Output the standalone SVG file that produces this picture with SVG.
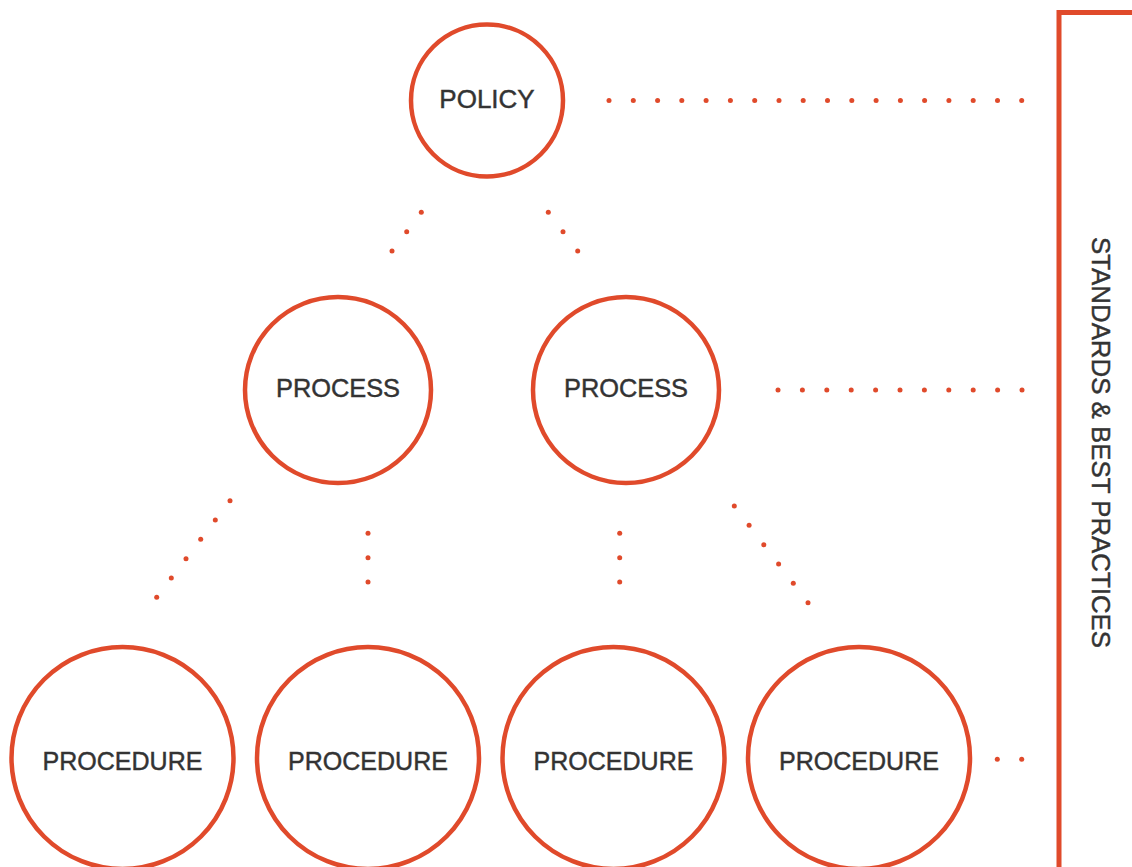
<svg xmlns="http://www.w3.org/2000/svg" width="1132" height="867" viewBox="0 0 1132 867">
  <style>
    .ring { fill: #ffffff; stroke: #e04a2b; stroke-width: 4.5; }
    .label { font-family: "Liberation Sans", Arial, sans-serif; font-size: 26px; fill: #333333; stroke: #333333; stroke-width: 0.45; text-anchor: middle; }
    .dot { fill: #e04a2b; }
    .bracket { fill: none; stroke: #e04a2b; stroke-width: 5; }
  </style>
  <rect width="1132" height="867" fill="#ffffff"/>

  <!-- dotted connectors -->
  <g id="connectors">
    <!-- policy to standards -->
    <g id="policy-row">
      <circle class="dot" cx="609" cy="100.5" r="2.5"/>
      <circle class="dot" cx="633.3" cy="100.5" r="2.5"/>
      <circle class="dot" cx="657.6" cy="100.5" r="2.5"/>
      <circle class="dot" cx="681.8" cy="100.5" r="2.5"/>
      <circle class="dot" cx="706.1" cy="100.5" r="2.5"/>
      <circle class="dot" cx="730.4" cy="100.5" r="2.5"/>
      <circle class="dot" cx="754.7" cy="100.5" r="2.5"/>
      <circle class="dot" cx="779" cy="100.5" r="2.5"/>
      <circle class="dot" cx="803.2" cy="100.5" r="2.5"/>
      <circle class="dot" cx="827.5" cy="100.5" r="2.5"/>
      <circle class="dot" cx="851.8" cy="100.5" r="2.5"/>
      <circle class="dot" cx="876.1" cy="100.5" r="2.5"/>
      <circle class="dot" cx="900.4" cy="100.5" r="2.5"/>
      <circle class="dot" cx="924.6" cy="100.5" r="2.5"/>
      <circle class="dot" cx="948.9" cy="100.5" r="2.5"/>
      <circle class="dot" cx="973.2" cy="100.5" r="2.5"/>
      <circle class="dot" cx="997.5" cy="100.5" r="2.5"/>
      <circle class="dot" cx="1021.7" cy="100.5" r="2.5"/>
    </g>
    <!-- process to standards -->
    <g id="process-row">
      <circle class="dot" cx="778" cy="390" r="2.5"/>
      <circle class="dot" cx="802.4" cy="390" r="2.5"/>
      <circle class="dot" cx="826.8" cy="390" r="2.5"/>
      <circle class="dot" cx="851.2" cy="390" r="2.5"/>
      <circle class="dot" cx="875.6" cy="390" r="2.5"/>
      <circle class="dot" cx="900" cy="390" r="2.5"/>
      <circle class="dot" cx="924.4" cy="390" r="2.5"/>
      <circle class="dot" cx="948.8" cy="390" r="2.5"/>
      <circle class="dot" cx="973.2" cy="390" r="2.5"/>
      <circle class="dot" cx="997.6" cy="390" r="2.5"/>
      <circle class="dot" cx="1022" cy="390" r="2.5"/>
    </g>
    <!-- procedure to standards -->
    <g id="procedure-row">
      <circle class="dot" cx="997.3" cy="759.3" r="2.5"/>
      <circle class="dot" cx="1021.7" cy="759.3" r="2.5"/>
    </g>
    <!-- policy to processes -->
    <g id="policy-process">
      <circle class="dot" cx="421.3" cy="212.3" r="2.5"/>
      <circle class="dot" cx="406.7" cy="231.7" r="2.5"/>
      <circle class="dot" cx="392" cy="251" r="2.5"/>
      <circle class="dot" cx="548.3" cy="212.3" r="2.5"/>
      <circle class="dot" cx="563" cy="231.7" r="2.5"/>
      <circle class="dot" cx="577.7" cy="251" r="2.5"/>
    </g>
    <!-- processes to procedures -->
    <g id="process-procedure">
      <circle class="dot" cx="230" cy="500.7" r="2.5"/>
      <circle class="dot" cx="215.3" cy="520" r="2.5"/>
      <circle class="dot" cx="200.7" cy="539.3" r="2.5"/>
      <circle class="dot" cx="186" cy="558.7" r="2.5"/>
      <circle class="dot" cx="171.3" cy="578" r="2.5"/>
      <circle class="dot" cx="156.7" cy="597.3" r="2.5"/>

      <circle class="dot" cx="368" cy="533.3" r="2.5"/>
      <circle class="dot" cx="368" cy="557.7" r="2.5"/>
      <circle class="dot" cx="368" cy="582" r="2.5"/>

      <circle class="dot" cx="619.7" cy="533.3" r="2.5"/>
      <circle class="dot" cx="619.7" cy="557.7" r="2.5"/>
      <circle class="dot" cx="619.7" cy="582" r="2.5"/>

      <circle class="dot" cx="734.3" cy="506" r="2.5"/>
      <circle class="dot" cx="749.1" cy="525.3" r="2.5"/>
      <circle class="dot" cx="763.8" cy="544.7" r="2.5"/>
      <circle class="dot" cx="778.6" cy="564" r="2.5"/>
      <circle class="dot" cx="793.3" cy="583.3" r="2.5"/>
      <circle class="dot" cx="808" cy="602.7" r="2.5"/>
    </g>
  </g>

  <!-- policy -->
  <g id="policy">
    <circle class="ring" cx="487" cy="100.5" r="76"/>
    <text class="label" x="487" y="107.5" font-size="27">POLICY</text>
  </g>

  <!-- processes -->
  <g id="process-1">
    <circle class="ring" cx="338" cy="390" r="93"/>
    <text class="label" x="338" y="397" textLength="124" lengthAdjust="spacingAndGlyphs">PROCESS</text>
  </g>
  <g id="process-2">
    <circle class="ring" cx="626" cy="390" r="93"/>
    <text class="label" x="626" y="397" textLength="124" lengthAdjust="spacingAndGlyphs">PROCESS</text>
  </g>

  <!-- procedures -->
  <g id="procedure-1">
    <circle class="ring" cx="122.5" cy="758" r="111"/>
    <text class="label" x="122.5" y="770" textLength="160" lengthAdjust="spacingAndGlyphs">PROCEDURE</text>
  </g>
  <g id="procedure-2">
    <circle class="ring" cx="368" cy="758" r="111"/>
    <text class="label" x="368" y="770" textLength="160" lengthAdjust="spacingAndGlyphs">PROCEDURE</text>
  </g>
  <g id="procedure-3">
    <circle class="ring" cx="613.5" cy="758" r="111"/>
    <text class="label" x="613.5" y="770" textLength="160" lengthAdjust="spacingAndGlyphs">PROCEDURE</text>
  </g>
  <g id="procedure-4">
    <circle class="ring" cx="859" cy="758" r="111"/>
    <text class="label" x="859" y="770" textLength="160" lengthAdjust="spacingAndGlyphs">PROCEDURE</text>
  </g>

  <!-- standards bracket -->
  <g id="standards">
    <path class="bracket" d="M1132 12.5 H1059 V867"/>
    <text class="label" transform="translate(1092 442.5) rotate(90)" x="0" y="0" font-size="23" stroke-width="0.3" textLength="411" lengthAdjust="spacingAndGlyphs">STANDARDS &amp; BEST PRACTICES</text>
  </g>
</svg>
